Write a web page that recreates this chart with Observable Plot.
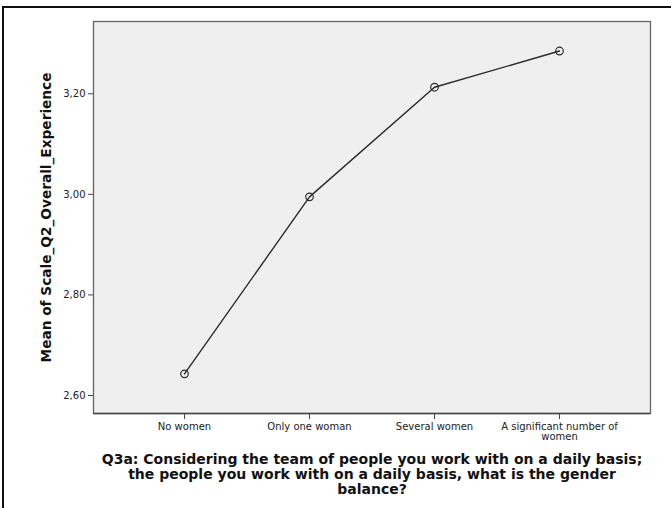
<!DOCTYPE html>
<html>
<head>
<meta charset="utf-8">
<script src="https://cdn.jsdelivr.net/npm/d3@7"></script>
<script src="https://cdn.jsdelivr.net/npm/@observablehq/plot@0.6"></script>
<style>
  html, body { margin: 0; padding: 0; background: #fff; }
  #wrap { position: relative; width: 671px; height: 508px; overflow: hidden; }
  #border { position: absolute; left: 2px; top: 6px; right: -4px; bottom: -4px;
            border-top: 2px solid #111; border-left: 2px solid #111; pointer-events: none; }
  svg { font-family: "DejaVu Sans", sans-serif; }
</style>
</head>
<body>
<div id="wrap"><div id="border"></div></div>
<script>
const categories = ["No women", "Only one woman", "Several women", "A significant number of women"];
const tickLabels = ["No women", "Only one woman", "Several women", "A significant number of\nwomen"];
const means = [2.643, 2.995, 3.213, 3.285];
const yTicks = [2.6, 2.8, 3.0, 3.2];
const yTitle = "Mean of Scale_Q2_Overall_Experience";
const xTitle = "Q3a: Considering the team of people you work with on a daily basis;\nthe people you work with on a daily basis, what is the gender\nbalance?";

const data = categories.map((c, i) => ({cat: c, mean: means[i]}));
const labelOf = new Map(categories.map((c, i) => [c, tickLabels[i]]));

const chart = Plot.plot({
  width: 671,
  height: 508,
  marginLeft: 93,
  marginRight: 21,
  marginTop: 21,
  marginBottom: 95,
  style: {fontFamily: "DejaVu Sans, sans-serif", background: "transparent"},
  x: {type: "point", domain: categories, padding: 0.728},
  y: {domain: [2.5642, 3.3437]},
  marks: [
    Plot.frame({fill: "#efefef", stroke: null}),
    Plot.axisX({ticks: categories, tickSize: 6, tickPadding: 3, fontSize: 10, label: null,
      tickFormat: d => labelOf.get(d), stroke: "#444", fill: "#222", lineHeight: 1.0}),
    Plot.axisY({ticks: yTicks, tickSize: 5, tickPadding: 3, fontSize: 10, label: null,
      tickFormat: d => d.toFixed(2).replace(".", ","), stroke: "#444", fill: "#222"}),
    Plot.frame({stroke: "#666", strokeWidth: 1.3}),
    Plot.ruleY([2.5642], {stroke: "#444", strokeWidth: 1.5}),
    Plot.line(data, {x: "cat", y: "mean", stroke: "#2a2a2a", strokeWidth: 1.4}),
    Plot.dot(data, {x: "cat", y: "mean", r: 3.8, stroke: "#2a2a2a", strokeWidth: 1.2, fill: "none"}),
    Plot.text([yTitle], {frameAnchor: "left", textAnchor: "middle", rotate: -90, dx: -47, fontSize: 13.7, fontWeight: "bold", fill: "#111"}),
    Plot.text([xTitle], {frameAnchor: "bottom", dy: 39.5, lineAnchor: "top", lineHeight: 1.08, fontSize: 14, fontWeight: "bold", fill: "#111"})
  ]
});
document.getElementById("wrap").prepend(chart);
</script>
</body>
</html>
